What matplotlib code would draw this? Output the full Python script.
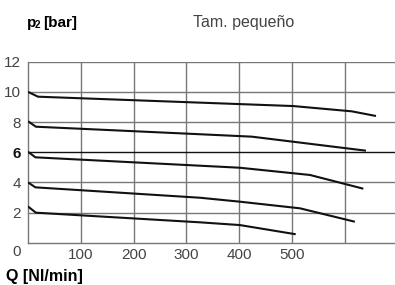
import matplotlib
matplotlib.use('Agg')
import matplotlib.pyplot as plt

plt.rcParams['font.family'] = ['Liberation Sans', 'DejaVu Sans']

# curvas p2 (bar) frente a caudal Q (Nl/min), tamaño pequeño
q_10 = [0, 19, 307, 502, 613, 659]
p_10 = [10.0, 9.68, 9.31, 9.06, 8.71, 8.40]
q_8 = [0, 15, 326, 424, 640]
p_8 = [8.05, 7.69, 7.19, 7.03, 6.10]
q_6 = [0, 14, 401, 534, 635]
p_6 = [6.03, 5.66, 4.97, 4.49, 3.58]
q_4 = [0, 14, 326, 401, 515, 619]
p_4 = [4.0, 3.67, 2.98, 2.72, 2.28, 1.39]
q_2 = [0, 15, 326, 401, 507]
p_2 = [2.4, 1.99, 1.35, 1.17, 0.56]

xticks = [100, 200, 300, 400, 500]
yticks = [2, 4, 6, 8, 10, 12]

fig = plt.figure(figsize=(3.95, 2.85), dpi=100)
ax = fig.add_axes([28/395, 42.3/285, 367/395, 181/285])
ax.set_xlim(0, 695)
ax.set_ylim(0, 12)

for x in [100, 200, 300, 400, 500, 600]:
    ax.axvline(x, color='#777777', lw=1.0, zorder=1)
for y in yticks:
    c = '#111111' if y == 6 else '#777777'
    ax.axhline(y, color=c, lw=1.0, zorder=1)

for q, p in [(q_10, p_10), (q_8, p_8), (q_6, p_6), (q_4, p_4), (q_2, p_2)]:
    ax.plot(q, p, color='#111111', lw=1.5, zorder=3, solid_capstyle='butt')

for s in ['top', 'right']:
    ax.spines[s].set_visible(False)
for s in ['left', 'bottom']:
    ax.spines[s].set_color('#777777')
    ax.spines[s].set_linewidth(1.0)

ax.set_xticks(xticks)
ax.set_xticklabels([str(v) for v in xticks])
ax.set_yticks(yticks)
ax.set_yticklabels([str(v) for v in yticks])
ax.tick_params(length=0, labelsize=11, labelcolor='#444444')
ax.tick_params(axis='x', pad=3.5)
ax.tick_params(axis='y', pad=5)
for lab in ax.get_yticklabels():
    if lab.get_text() == '6':
        lab.set_fontweight('bold')
        lab.set_color('#111111')

W, H = 395, 285
fig.text(16.5/W, 1 - 252/H, '0', fontsize=11, color='#444444', ha='center', va='center')
fig.text(27/W, 1 - 23/H, 'p', fontsize=11, fontweight='bold', va='center')
fig.text(35/W, 1 - 25/H, '2', fontsize=7, fontweight='bold', va='center')
fig.text(43/W, 1 - 23/H, '[bar]', fontsize=11, fontweight='bold', va='center')
fig.text(193/W, 1 - 23/H, 'Tam. pequeño', fontsize=11.5, color='#444444', va='center')
fig.text(6/W, 1 - 276/H, 'Q [Nl/min]', fontsize=11.5, fontweight='bold', va='center')

fig.savefig('out.png', dpi=100)
